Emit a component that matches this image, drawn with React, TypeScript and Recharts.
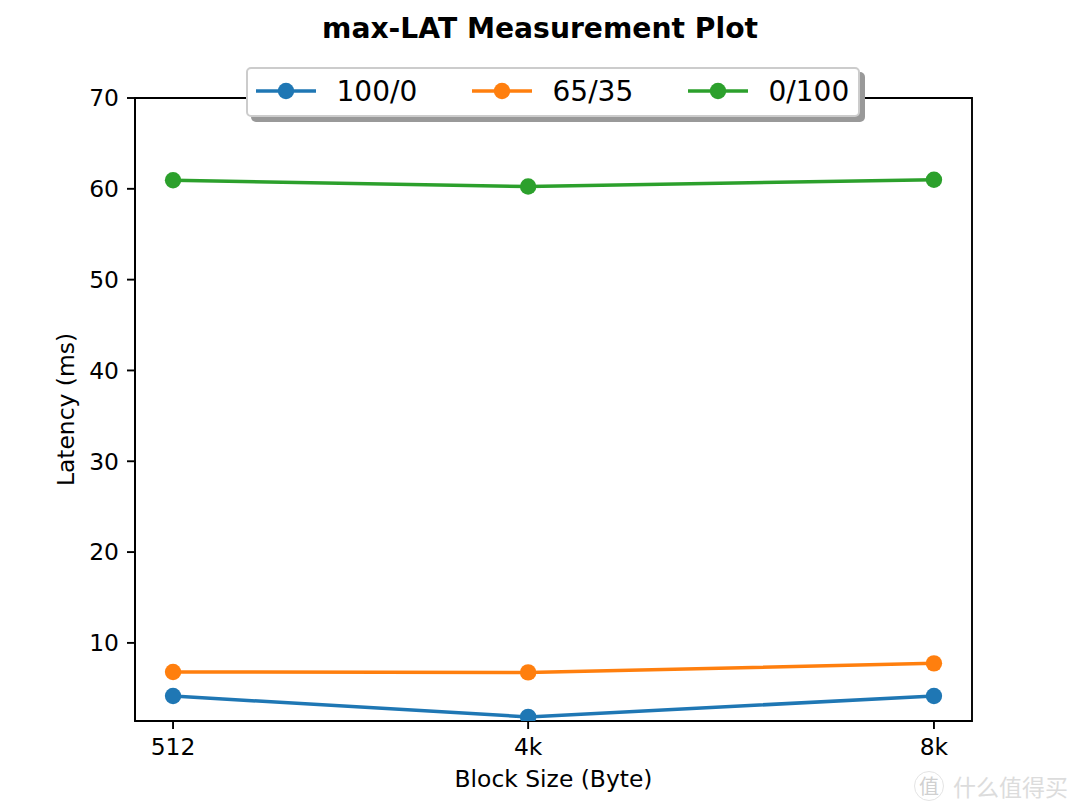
import React from 'react';
import { LineChart, Line, XAxis, YAxis, Legend, ReferenceArea } from 'recharts';

const blockSizes = [512, 4096, 8192];
const blockLabels = ['512', '4k', '8k'];
const readAll = [4.15, 1.85, 4.15];
const mixed = [6.8, 6.75, 7.75];
const writeAll = [60.95, 60.25, 61.0];
const yTicks = [10, 20, 30, 40, 50, 60, 70];
const seriesNames = ['100/0', '65/35', '0/100'];
const seriesColors = ['#1f77b4', '#ff7f0e', '#2ca02c'];
const seriesKeys = ['a', 'b', 'c'];

const rows = blockSizes.map((size, i) => ({ size, a: readAll[i], b: mixed[i], c: writeAll[i] }));
const FONT = '"DejaVu Sans", sans-serif';
const X_MIN = 128;
const X_MAX = 8576;
const Y_MIN = 1.4;
const Y_MAX = 70;

function LegendBox({ payload }: any) {
  const items = payload || [];
  return (
    <div style={{ position: 'relative', width: 614, height: 50 }}>
      <div style={{ position: 'absolute', left: 5, top: 5, width: 614, height: 50, background: '#999999', borderRadius: 5 }} />
      <div style={{ position: 'absolute', left: 0, top: 0, width: 614, height: 50, boxSizing: 'border-box', background: '#fff', border: '2px solid #cccccc', borderRadius: 5 }} />
      {items.map((it: any, i: number) => (
        <React.Fragment key={it.value}>
          <svg style={{ position: 'absolute', left: 10 + 216 * i, top: 10 }} width={60} height={28}>
            <line x1={0} x2={60} y1={14} y2={14} stroke={it.color} strokeWidth={3.5} />
            <circle cx={30} cy={14} r={8.2} fill={it.color} />
          </svg>
          <span style={{ position: 'absolute', left: 90.5 + 216 * i, top: 8, fontFamily: FONT, fontSize: 28, lineHeight: '33px', color: '#000', whiteSpace: 'nowrap' }}>{it.value}</span>
        </React.Fragment>
      ))}
    </div>
  );
}

export default function App() {
  return (
    <div style={{ position: 'absolute', left: 0, top: 0, width: 1080, height: 810, background: '#fff', overflow: 'hidden' }}>
      <div style={{ position: 'absolute', left: 0, right: 0, top: 12, textAlign: 'center', fontFamily: FONT, fontWeight: 700, fontSize: 28.2, lineHeight: '34px', color: '#000' }}>max-LAT Measurement Plot</div>
      <LineChart width={1080} height={810} data={rows} margin={{ top: 98, right: 108, bottom: 0, left: 0 }}>
        <XAxis
          dataKey="size"
          type="number"
          domain={[X_MIN, X_MAX]}
          ticks={blockSizes}
          tickFormatter={(v: number) => blockLabels[blockSizes.indexOf(v)]}
          allowDataOverflow
          height={89}
          tickSize={8}
          tickMargin={9}
          interval={0}
          axisLine={{ stroke: '#000', strokeWidth: 1.9 }}
          tickLine={{ stroke: '#000', strokeWidth: 1.9 }}
          tick={{ fill: '#000', fontFamily: FONT, fontSize: 23.4 }}
          label={{ value: 'Block Size (Byte)', position: 'insideBottom', offset: 23, fill: '#000', fontFamily: FONT, fontSize: 23.4 }}
        />
        <YAxis
          type="number"
          domain={[Y_MIN, Y_MAX]}
          ticks={yTicks}
          allowDataOverflow
          width={135}
          tickSize={8}
          tickMargin={8}
          interval={0}
          axisLine={{ stroke: '#000', strokeWidth: 1.9 }}
          tickLine={{ stroke: '#000', strokeWidth: 1.9 }}
          tick={{ fill: '#000', fontFamily: FONT, fontSize: 23.4 }}
          label={{ value: 'Latency (ms)', angle: -90, position: 'insideLeft', offset: 66, style: { textAnchor: 'middle' }, fill: '#000', fontFamily: FONT, fontSize: 23.4 }}
        />
        <ReferenceArea x1={X_MIN} x2={X_MAX} y1={Y_MIN} y2={Y_MAX} fill="none" stroke="#000" strokeWidth={1.9} fillOpacity={0} ifOverflow="visible" />
        {seriesKeys.map((k, i) => (
          <Line
            key={k}
            dataKey={k}
            name={seriesNames[i]}
            stroke={seriesColors[i]}
            strokeWidth={3.5}
            isAnimationActive={false}
            dot={{ r: 8.2, fill: seriesColors[i], stroke: seriesColors[i], strokeWidth: 0 }}
            activeDot={false}
          />
        ))}
        <Legend
          content={<LegendBox />}
          layout="horizontal"
          verticalAlign="middle"
          align="center"
          itemSorter={null}
          wrapperStyle={{ position: 'absolute', left: 246, top: 67, width: 619, height: 55, bottom: 'auto', right: 'auto' }}
        />
      </LineChart>
      <div style={{ position: 'absolute', left: 953, top: 770, fontFamily: '"Noto Sans CJK SC"', fontSize: 23, lineHeight: '32px', color: '#dcdcdc', whiteSpace: 'nowrap' }}>什么值得买</div>
      <div style={{ position: 'absolute', left: 914, top: 771, width: 28, height: 28, border: '1.5px solid #e4e4e4', borderRadius: '50%', textAlign: 'center', fontFamily: '"Noto Sans CJK SC"', fontSize: 20, lineHeight: '27px', color: '#d0d0d0' }}>值</div>
    </div>
  );
}
